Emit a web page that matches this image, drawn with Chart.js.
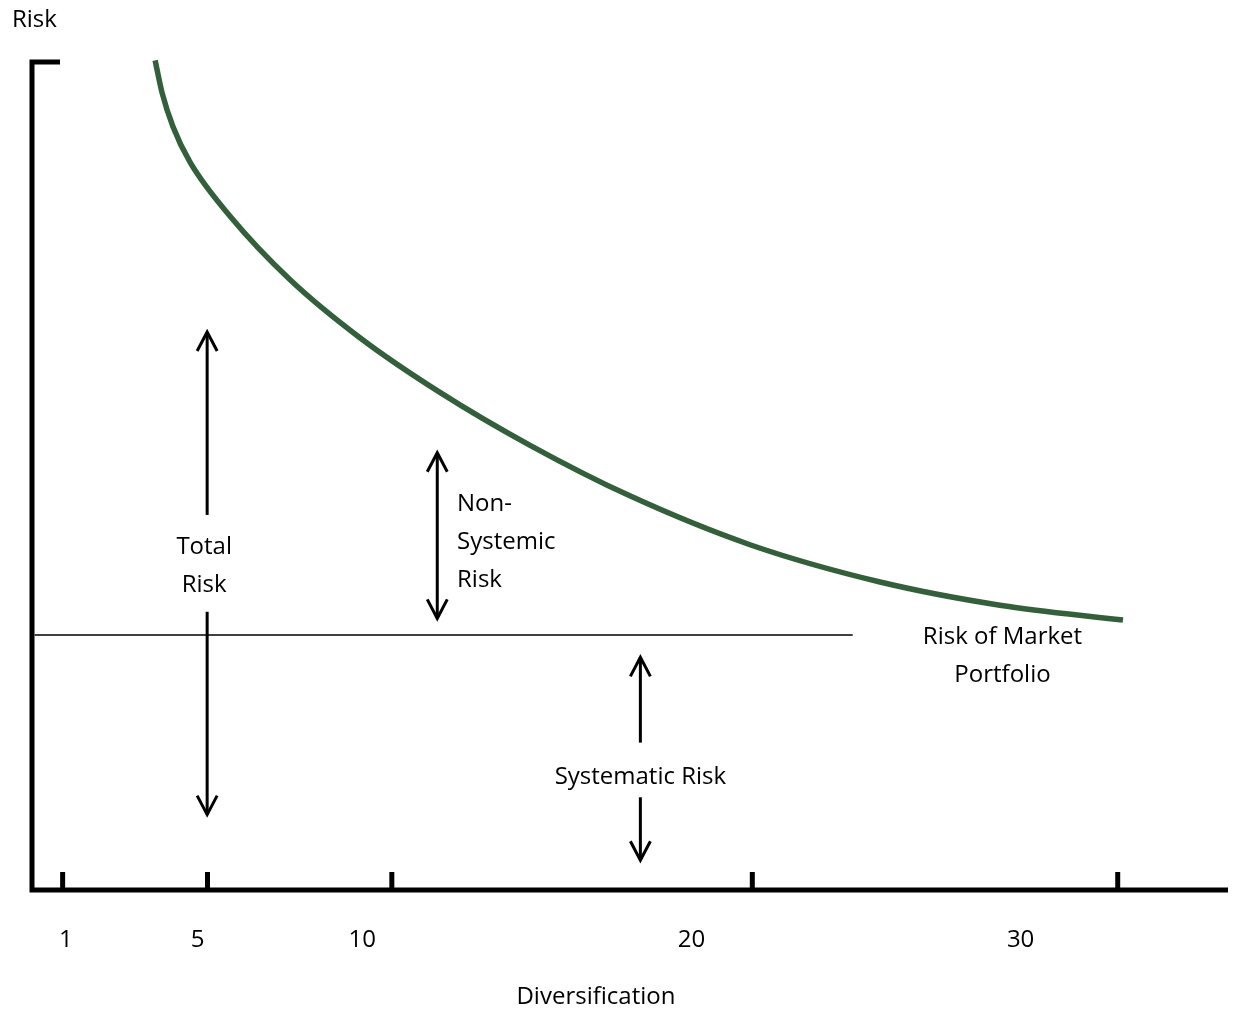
<!DOCTYPE html>
<html>
<head>
<meta charset="utf-8">
<title>Diversification and Risk</title>
<script src="https://cdn.jsdelivr.net/npm/chart.js@4.4.1/dist/chart.umd.min.js"></script>
<style>
    html, body { margin: 0; padding: 0; background: #fff; }
    canvas { display: block; }
</style>
</head>
<body>
<canvas id="chartRisk" width="1235" height="1011"></canvas>
<script>
// Total risk curve (diversification vs risk)
const curveX = [3.71, 3.92, 4.25, 4.77, 5.98, 7.81, 9.93, 12.36, 15.10, 18.13, 21.78, 25.73, 29.37, 33.11];
const curveY = [10.02, 9.63, 9.22, 8.79, 8.14, 7.37, 6.67, 6.01, 5.37, 4.76, 4.17, 3.72, 3.44, 3.26];

// Risk of market portfolio (horizontal line)
const marketX = [0.05, 24.9];
const marketY = [3.08, 3.08];

// Axis
const tickLabels = [1, 5, 10, 20, 30];
const tickMarks = [0.9, 5.3, 10.9, 21.85, 32.95];

// Arrows: x position, start value, tip value, double headed?
const arrowX    = [5.29, 5.29, 12.28, 18.45, 18.45];
const arrowFrom = [4.53, 3.36, 3.28, 1.78, 1.12];
const arrowTo   = [6.74, 0.91, 5.28, 2.81, 0.36];
const arrowBoth = [false, false, true, false, false];

// Text labels
const noteText = ['Total', 'Risk', 'Non-', 'Systemic', 'Risk', 'Risk of Market', 'Portfolio', 'Systematic Risk'];
const noteX    = [5.2, 5.2, 12.88, 12.88, 12.88, 29.45, 29.45, 18.45];
const noteY    = [4.14, 3.68, 4.66, 4.2, 3.74, 3.05, 2.59, 1.36];
const noteAlign = ['center', 'center', 'left', 'left', 'left', 'center', 'center', 'center'];

const FONT = '24px "Open Sans", "Noto Sans", sans-serif';

function toPoints(xs, ys) {
    return xs.map((x, i) => ({ x: x, y: ys[i] }));
}

// Plugin to draw axes, arrows and notes using the chart scales
const riskDiagram = {
    id: 'riskDiagram',
    afterDatasetsDraw(chart) {
        const ctx = chart.ctx;
        const x = chart.scales.x;
        const y = chart.scales.y;
        const area = chart.chartArea;

        ctx.save();
        ctx.strokeStyle = '#000';
        ctx.fillStyle = '#000';
        ctx.lineCap = 'butt';

        // axis lines
        ctx.lineWidth = 5;
        ctx.lineJoin = 'miter';
        ctx.beginPath();
        ctx.moveTo(area.left + 27, area.top);
        ctx.lineTo(area.left - 1, area.top);
        ctx.lineTo(area.left - 1, area.bottom);
        ctx.lineTo(area.right, area.bottom);
        ctx.stroke();

        // tick marks
        tickMarks.forEach(v => {
            const px = x.getPixelForValue(v);
            ctx.beginPath();
            ctx.moveTo(px, area.bottom);
            ctx.lineTo(px, area.bottom - 18);
            ctx.stroke();
        });

        // tick labels and axis titles
        ctx.font = FONT;
        ctx.textAlign = 'center';
        ctx.textBaseline = 'middle';
        tickLabels.forEach(v => {
            ctx.fillText(String(v), x.getPixelForValue(v), area.bottom + 50);
        });
        ctx.fillText('Diversification', x.getPixelForValue(17.1), area.bottom + 107);
        ctx.textAlign = 'left';
        ctx.fillText('Risk', 12, 20);

        // arrows
        ctx.lineWidth = 3;
        arrowX.forEach((ax, i) => {
            const px = x.getPixelForValue(ax);
            const p1 = y.getPixelForValue(arrowFrom[i]);
            const p2 = y.getPixelForValue(arrowTo[i]);
            ctx.beginPath();
            ctx.moveTo(px, p1);
            ctx.lineTo(px, p2);
            ctx.stroke();
            const heads = arrowBoth[i] ? [[p2, p1], [p1, p2]] : [[p2, p1]];
            heads.forEach(([tip, base]) => {
                const dir = base > tip ? 1 : -1;
                ctx.beginPath();
                ctx.moveTo(px - 10, tip + dir * 19);
                ctx.lineTo(px, tip);
                ctx.lineTo(px + 10, tip + dir * 19);
                ctx.stroke();
            });
        });

        // notes
        noteText.forEach((t, i) => {
            ctx.textAlign = noteAlign[i];
            ctx.fillText(t, x.getPixelForValue(noteX[i]), y.getPixelForValue(noteY[i]));
        });

        ctx.restore();
    }
};

new Chart(document.getElementById('chartRisk'), {
    type: 'scatter',
    data: {
        datasets: [
            {
                label: 'Total Risk',
                data: toPoints(curveX, curveY),
                showLine: true,
                borderColor: '#33603a',
                borderWidth: 5.5,
                pointRadius: 0,
                cubicInterpolationMode: 'monotone',
                clip: false,
            },
            {
                label: 'Risk of Market Portfolio',
                data: toPoints(marketX, marketY),
                showLine: true,
                borderColor: '#000',
                borderWidth: 1.5,
                pointRadius: 0,
                clip: false,
            }
        ]
    },
    options: {
        responsive: false,
        animation: false,
        devicePixelRatio: 1,
        layout: {
            padding: { left: 33, right: 7, top: 62, bottom: 121 }
        },
        scales: {
            x: { type: 'linear', min: 0, max: 36.3, display: false },
            y: { type: 'linear', min: 0, max: 10, display: false }
        },
        plugins: {
            legend: { display: false },
            tooltip: { enabled: false },
            title: { display: false }
        }
    },
    plugins: [riskDiagram]
});
</script>
</body>
</html>
